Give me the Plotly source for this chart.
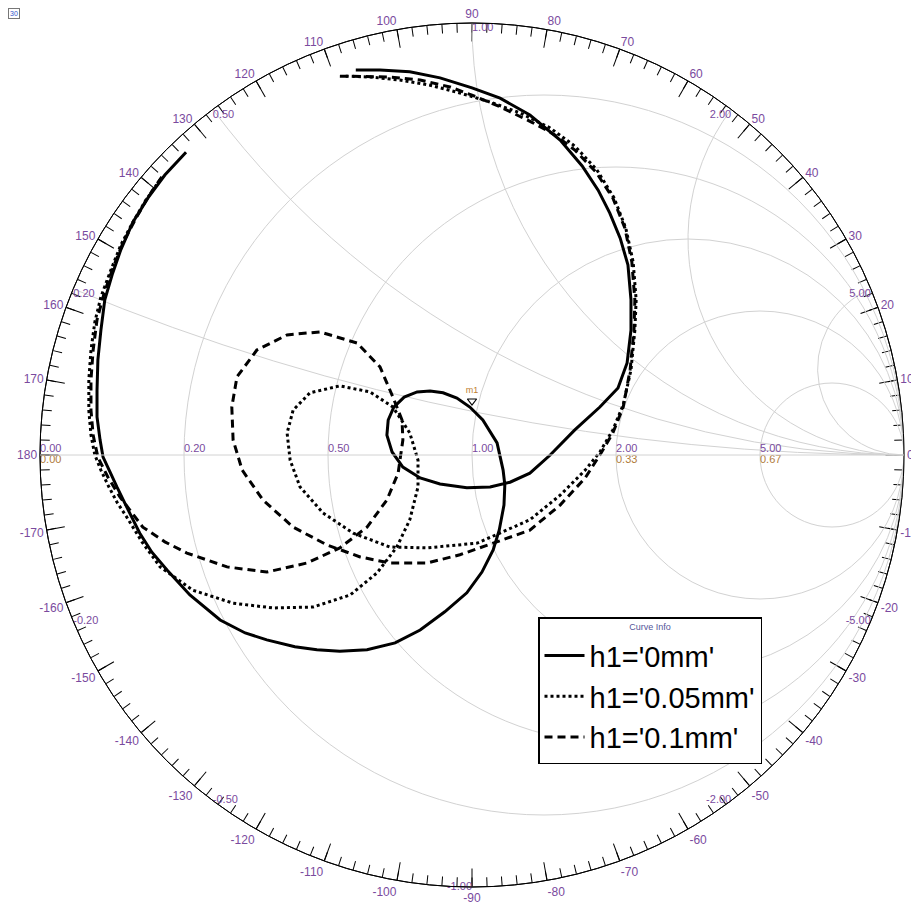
import numpy as np
import plotly.graph_objects as go

solid_re = [-0.662, -0.711, -0.750, -0.785, -0.813, -0.833, -0.850, -0.859, -0.866, -0.868,
            -0.868, -0.861, -0.854, -0.838, -0.822, -0.796, -0.769, -0.741, -0.706, -0.653,
            -0.583, -0.525, -0.475, -0.410, -0.359, -0.306, -0.243, -0.178, -0.120, -0.063,
            -0.012, 0.023, 0.049, 0.063, 0.074, 0.076, 0.072, 0.058, 0.025, -0.005,
            -0.035, -0.067, -0.097, -0.127, -0.157, -0.181, -0.194, -0.197, -0.185, -0.160,
            -0.120, -0.074, -0.012, 0.042, 0.088, 0.134, 0.181, 0.238, 0.296, 0.338,
            0.359, 0.368, 0.368, 0.361, 0.343, 0.319, 0.292, 0.255, 0.204, 0.134,
            0.065, 0.000, -0.074, -0.144, -0.213, -0.269]
solid_im = [0.701, 0.648, 0.595, 0.539, 0.475, 0.417, 0.359, 0.289, 0.220, 0.150,
            0.088, 0.035, -0.005, -0.039, -0.074, -0.127, -0.181, -0.225, -0.266, -0.324,
            -0.382, -0.412, -0.428, -0.444, -0.451, -0.454, -0.451, -0.435, -0.405, -0.363,
            -0.319, -0.271, -0.220, -0.174, -0.116, -0.069, -0.035, 0.028, 0.081, 0.111,
            0.132, 0.144, 0.148, 0.146, 0.134, 0.111, 0.081, 0.046, 0.007, -0.028,
            -0.053, -0.067, -0.076, -0.074, -0.063, -0.042, 0.000, 0.058, 0.111, 0.155,
            0.213, 0.289, 0.359, 0.440, 0.502, 0.560, 0.613, 0.669, 0.729, 0.787,
            0.826, 0.850, 0.873, 0.887, 0.891, 0.891]

dot_re = [-0.722, -0.755, -0.785, -0.813, -0.836, -0.859, -0.873, -0.882, -0.887, -0.887,
          -0.882, -0.873, -0.859, -0.843, -0.822, -0.799, -0.764, -0.722, -0.646, -0.553,
          -0.461, -0.368, -0.282, -0.220, -0.174, -0.144, -0.125, -0.125, -0.144, -0.183,
          -0.236, -0.306, -0.375, -0.414, -0.428, -0.421, -0.398, -0.345, -0.275, -0.190,
          -0.104, 0.012, 0.134, 0.204, 0.262, 0.296, 0.326, 0.350, 0.368, 0.377,
          0.380, 0.373, 0.356, 0.329, 0.289, 0.238, 0.181, 0.111, 0.042, -0.028,
          -0.097, -0.167, -0.236, -0.294]
dot_im = [0.637, 0.590, 0.539, 0.486, 0.428, 0.366, 0.308, 0.243, 0.174, 0.104,
          0.046, 0.000, -0.035, -0.069, -0.109, -0.144, -0.201, -0.259, -0.313, -0.343,
          -0.354, -0.352, -0.324, -0.273, -0.213, -0.150, -0.074, -0.012, 0.051, 0.111,
          0.146, 0.160, 0.144, 0.104, 0.051, -0.012, -0.074, -0.134, -0.181, -0.213,
          -0.215, -0.204, -0.150, -0.093, -0.035, 0.007, 0.058, 0.116, 0.197, 0.289,
          0.359, 0.447, 0.525, 0.595, 0.660, 0.715, 0.757, 0.792, 0.817, 0.838,
          0.856, 0.868, 0.875, 0.877]

dash_re = [-0.718, -0.750, -0.780, -0.808, -0.831, -0.852, -0.868, -0.877, -0.882, -0.882,
           -0.877, -0.866, -0.843, -0.815, -0.762, -0.711, -0.660, -0.567, -0.475, -0.382,
           -0.306, -0.243, -0.197, -0.171, -0.160, -0.162, -0.183, -0.213, -0.266, -0.352,
           -0.428, -0.498, -0.544, -0.556, -0.553, -0.532, -0.484, -0.414, -0.336, -0.259,
           -0.190, -0.104, -0.028, 0.049, 0.134, 0.204, 0.262, 0.296, 0.326, 0.350,
           0.366, 0.375, 0.377, 0.370, 0.354, 0.326, 0.287, 0.238, 0.192, 0.141,
           0.065, 0.000, -0.051, -0.120, -0.190, -0.306]
dash_im = [0.644, 0.597, 0.544, 0.491, 0.433, 0.373, 0.313, 0.243, 0.174, 0.104,
           0.046, -0.005, -0.051, -0.097, -0.167, -0.201, -0.227, -0.259, -0.271, -0.250,
           -0.215, -0.167, -0.104, -0.042, 0.035, 0.081, 0.134, 0.204, 0.259, 0.285,
           0.278, 0.243, 0.181, 0.111, 0.035, -0.035, -0.104, -0.167, -0.208, -0.236,
           -0.250, -0.250, -0.231, -0.204, -0.174, -0.116, -0.053, 0.000, 0.051, 0.111,
           0.197, 0.289, 0.359, 0.447, 0.525, 0.595, 0.655, 0.706, 0.741, 0.769,
           0.806, 0.833, 0.852, 0.868, 0.875, 0.877]

marker_re = [0.000]
marker_im = [0.125]

series_names = ["h1='0mm'", "h1='0.05mm'", "h1='0.1mm'"]

grid_vals = [0.2, 0.5, 1.0, 2.0, 5.0]
real_labels_top = ["0.00", "0.20", "0.50", "1.00", "2.00", "5.00"]
real_label_vals = [0.0, 0.2, 0.5, 1.0, 2.0, 5.0]
gamma_labels = ["0.00", "0.33", "0.67"]
gamma_label_vals = [0.0, 2.0, 5.0]
imag_label_vals = [1.0, 2.0, 5.0, 0.5, 0.2, -0.2, -0.5, -1.0, -2.0, -5.0]
imag_labels = ["1.00", "2.00", "5.00", "0.50", "0.20", "-0.20", "-0.50", "-1.00", "-2.00", "-5.00"]
imag_label_pos = ["bottom right", "bottom left", "bottom left", "bottom right", "bottom right",
                  "middle right", "middle right", "middle left", "middle left", "middle left"]

angle_major = list(range(0, 360, 10))
angle_major_text = [str(a) if a <= 180 else str(a - 360) for a in angle_major]
angle_minor = list(range(0, 360, 2))


def to_z(re, im):
    g = np.array(re) + 1j * np.array(im)
    z = (1 + g) / (1 - g)
    return z.real, z.imag


LABEL_COLOR = "#7a4a9e"
FONT = "Liberation Sans, Arial, sans-serif"

fig = go.Figure()

# empty traces to materialise the angular tick overlays
fig.add_trace(go.Scatterpolar(r=[], theta=[], subplot="polar", showlegend=False))
fig.add_trace(go.Scatterpolar(r=[], theta=[], subplot="polar2", showlegend=False))

styles = ["solid", "dot", "8px,5px"]
for (re, im), name, dash in zip([(solid_re, solid_im), (dot_re, dot_im), (dash_re, dash_im)],
                                series_names, styles):
    zr, zi = to_z(re, im)
    fig.add_trace(go.Scattersmith(real=zr, imag=zi, mode="lines", name=name,
                                  line=dict(color="black", width=3, dash=dash),
                                  hoverinfo="skip"))

mr, mi = to_z(marker_re, marker_im)
fig.add_trace(go.Scattersmith(real=mr, imag=mi, mode="markers+text", text=["m1"],
                              textposition="top center",
                              textfont=dict(size=9, color="#c08030", family=FONT),
                              marker=dict(symbol="triangle-down-open", size=8,
                                          color="black", line=dict(width=1.2, color="black")),
                              showlegend=False, hoverinfo="skip"))

fig.add_trace(go.Scattersmith(real=real_label_vals, imag=[0] * len(real_label_vals),
                              mode="text", text=real_labels_top, textposition="top right",
                              textfont=dict(size=11, color=LABEL_COLOR, family=FONT),
                              showlegend=False, hoverinfo="skip"))
fig.add_trace(go.Scattersmith(real=gamma_label_vals, imag=[0] * len(gamma_label_vals),
                              mode="text", text=gamma_labels, textposition="bottom right",
                              textfont=dict(size=11, color="#b07a3a", family=FONT),
                              showlegend=False, hoverinfo="skip"))
fig.add_trace(go.Scattersmith(real=[0] * len(imag_label_vals), imag=imag_label_vals,
                              mode="text", text=imag_labels, textposition=imag_label_pos,
                              textfont=dict(size=11, color=LABEL_COLOR, family=FONT),
                              showlegend=False, hoverinfo="skip"))

# page body has an 8px margin: place the circle so that it lands at centre (472,455), R=432
OFF = 8
cx, cy, R = 472 - OFF, 455 - OFF, 432
W, H = 919, 911
dom_x = [(cx - R) / W, (cx + R) / W]
dom_y = [(H - (cy + R)) / H, (H - (cy - R)) / H]

grid_col = "#d2d2d2"
fig.update_layout(
    width=W, height=H,
    margin=dict(l=0, r=0, t=0, b=0),
    paper_bgcolor="white",
    showlegend=True,
    smith=dict(
        domain=dict(x=dom_x, y=dom_y),
        bgcolor="rgba(0,0,0,0)",
        realaxis=dict(tickvals=grid_vals, showticklabels=False, ticks="",
                      gridcolor=grid_col, gridwidth=1, linecolor=grid_col, linewidth=1),
        imaginaryaxis=dict(tickvals=grid_vals, showticklabels=False, ticks="",
                           gridcolor=grid_col, gridwidth=1, linecolor="black", linewidth=1),
    ),
    polar=dict(
        domain=dict(x=dom_x, y=dom_y),
        bgcolor="rgba(0,0,0,0)",
        radialaxis=dict(visible=False, range=[0, 1]),
        angularaxis=dict(rotation=0, direction="counterclockwise", tickmode="array",
                         tickvals=angle_minor, ticktext=[""] * len(angle_minor),
                         ticks="inside", ticklen=9, tickcolor="black", tickwidth=1,
                         showgrid=False, showline=False),
    ),
    polar2=dict(
        domain=dict(x=dom_x, y=dom_y),
        bgcolor="rgba(0,0,0,0)",
        radialaxis=dict(visible=False, range=[0, 1]),
        angularaxis=dict(rotation=0, direction="counterclockwise", tickmode="array",
                         tickvals=angle_major, ticktext=angle_major_text,
                         ticks="inside", ticklen=18, tickcolor="black", tickwidth=1,
                         showgrid=False, showline=True, linecolor="black", linewidth=1,
                         tickfont=dict(size=12, color=LABEL_COLOR, family=FONT)),
    ),
    legend=dict(x=(538 - OFF) / W, y=(H - (617 - OFF)) / H, xanchor="left", yanchor="top",
                bgcolor="white", bordercolor="black", borderwidth=1.5,
                font=dict(size=29, color="black", family=FONT),
                itemwidth=40, tracegroupgap=0,
                title=dict(text="Curve Info", side="top center",
                           font=dict(size=9, color="#555599", family=FONT))),
)

fig.add_annotation(x=0.0, y=1.0, xref="paper", yref="paper", xanchor="left", yanchor="top",
                   text="30", showarrow=False, font=dict(size=7, color="#3355cc", family=FONT),
                   bordercolor="#777777", borderwidth=1, borderpad=1)

fig.write_html("out.html")
